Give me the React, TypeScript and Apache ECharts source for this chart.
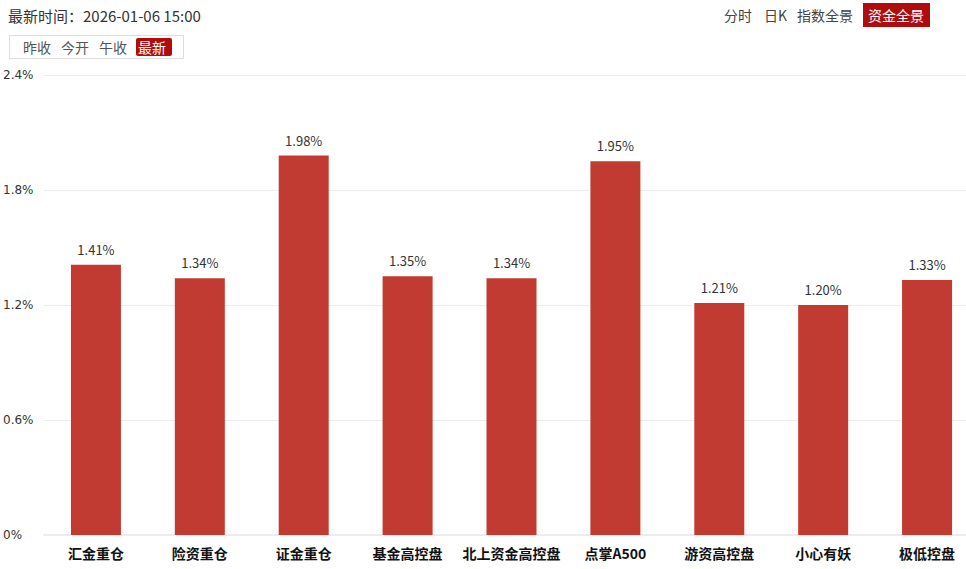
import React, { useEffect, useRef } from 'react';
import * as echarts from 'echarts';

const categories = ['汇金重仓', '险资重仓', '证金重仓', '基金高控盘', '北上资金高控盘', '点掌A500', '游资高控盘', '小心有妖', '极低控盘'];
const changes = [1.41, 1.34, 1.98, 1.35, 1.34, 1.95, 1.21, 1.2, 1.33];
const yTicks = [0, 0.6, 1.2, 1.8, 2.4];
const updateTime = '最新时间：2026-01-06 15:00';
const priceTabs = ['昨收', '今开', '午收', '最新'];
const viewTabs = ['分时', '日K', '指数全景', '资金全景'];

const FONT = '"Noto Sans CJK SC", "Noto Sans", sans-serif';
const RED = '#b00c0c';

const App: React.FC = () => {
  const chartRef = useRef<HTMLDivElement>(null);

  useEffect(() => {
    if (!chartRef.current) return;
    const chart = echarts.init(chartRef.current, undefined, { renderer: 'svg' });

    // tab strips drawn as graphic elements
    const priceX = [23, 61, 99, 138];
    const viewX = [724, 764, 797, 868];
    const graphic: any[] = [
      {
        type: 'text', x: 8, y: 15,
        style: {
          text: updateTime, font: `15px ${FONT}`, fill: '#333', verticalAlign: 'middle',
        },
      },
      {
        type: 'rect', shape: { x: 9.5, y: 35.5, width: 174, height: 23 },
        style: { fill: '#fff', stroke: '#ddd', lineWidth: 1 },
      },
      {
        type: 'rect', shape: { x: 136, y: 38, width: 36, height: 18, r: 2 },
        style: { fill: RED },
      },
      {
        type: 'rect', shape: { x: 863, y: 3, width: 67, height: 24 },
        style: { fill: RED },
      },
    ];
    priceTabs.forEach((t, i) => {
      graphic.push({
        type: 'text', x: priceX[i], y: 47,
        style: {
          text: t, font: `14px ${FONT}`, fill: i === 3 ? '#fff' : '#555',
          verticalAlign: 'middle',
        },
      });
    });
    viewTabs.forEach((t, i) => {
      graphic.push({
        type: 'text', x: viewX[i], y: 15,
        style: {
          text: t, font: `14px ${FONT}`, fill: i === 3 ? '#fff' : '#444',
          verticalAlign: 'middle',
        },
      });
    });

    chart.setOption({
      animation: false,
      graphic,
      grid: { left: 43, right: 1, top: 75, bottom: 34, containLabel: false },
      xAxis: {
        type: 'category',
        data: categories,
        axisLine: { lineStyle: { color: '#ececec', width: 2 } },
        axisTick: { show: false },
        axisLabel: {
          interval: 0, margin: 11, color: '#111', fontSize: 14,
          fontWeight: 'bold', fontFamily: FONT,
        },
      },
      yAxis: {
        type: 'value',
        min: yTicks[0],
        max: yTicks[yTicks.length - 1],
        interval: 0.6,
        axisLine: { show: false },
        axisTick: { show: false },
        splitLine: { lineStyle: { color: '#ececec', width: 1 } },
        axisLabel: {
          align: 'left', margin: 41, color: '#333', fontSize: 12,
          fontFamily: '"DejaVu Sans", sans-serif',
          formatter: (v: number) => `${parseFloat(v.toFixed(1))}%`,
        },
      },
      series: [
        {
          type: 'bar',
          data: changes,
          barWidth: 50,
          itemStyle: { color: '#c23b32' },
          label: {
            show: true, position: 'top', distance: 9, color: '#333',
            fontSize: 13, fontFamily: FONT,
            formatter: (p: any) => `${p.value.toFixed(2)}%`,
          },
        },
      ],
    });
    return () => chart.dispose();
  }, []);

  return (
    <div
      style={{
        position: 'fixed', left: 0, top: 0, width: 966, height: 569,
        overflow: 'hidden', background: '#fff',
      }}
    >
      <div ref={chartRef} style={{ width: 980, height: 569 }} />
    </div>
  );
};

export default App;
